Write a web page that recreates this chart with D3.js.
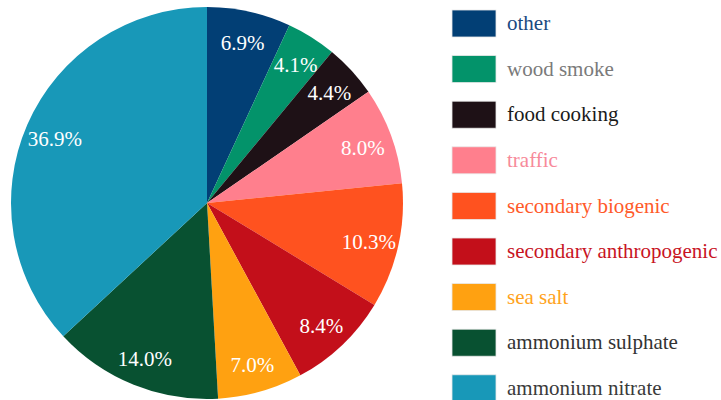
<!DOCTYPE html>
<html><head><meta charset="utf-8">
<script src="https://cdn.jsdelivr.net/npm/d3@7"></script>
</head><body style="margin:0">
<svg id="chart" width="721" height="400" font-family="Liberation Serif"></svg>
<script>
const categories = ["other","wood smoke","food cooking","traffic","secondary biogenic","secondary anthropogenic","sea salt","ammonium sulphate","ammonium nitrate"];
const values = [6.9,4.1,4.4,8.0,10.3,8.4,7.0,14.0,36.9];
const sliceColors = ["#023f75","#03936a","#1e1116","#ff7f8d","#ff521f","#c30f1a","#ffa111","#085131","#1898b8"];
const legendTextColors = ["#1b4a80","#7a7a7a","#1a1a1a","#f78a9a","#ff5a2a","#c8141f","#ffa31c","#333333","#3a3a3a"];

const FONT = "Liberation Serif";
const svg = d3.select("#chart");
const cx = 207, cy = 203, R = 196, labelR = 166;
const data = categories.map((c,i)=>({name:c, value:values[i], color:sliceColors[i], tcolor:legendTextColors[i]}));

const pie = d3.pie().value(d=>d.value).sort(null);
const arc = d3.arc().innerRadius(0).outerRadius(R);
const labelArc = d3.arc().innerRadius(labelR).outerRadius(labelR);
const g = svg.append("g").attr("transform",`translate(${cx},${cy})`);
const arcs = pie(data);
g.selectAll("path").data(arcs).join("path")
  .attr("d",arc).attr("fill",d=>d.data.color);
g.selectAll("text").data(arcs).join("text")
  .attr("transform",d=>`translate(${labelArc.centroid(d)})`)
  .attr("text-anchor","middle").attr("dy","0.45em")
  .attr("font-family",FONT)
  .attr("font-size",21).attr("fill","#fff")
  .text(d=>d.data.value.toFixed(1)+"%");

const legend = svg.append("g").attr("transform","translate(452,10)");
const step = 45.6;
const items = legend.selectAll("g").data(data).join("g")
  .attr("transform",(d,i)=>`translate(0,${i*step})`);
items.append("rect").attr("width",44).attr("height",27).attr("fill",d=>d.color)
  .attr("stroke","#e8e8e8").attr("stroke-width",0.8);
items.append("text").attr("x",55).attr("y",13.5).attr("dy","0.32em")
  .attr("font-family",FONT)
  .attr("font-size",21).attr("fill",d=>d.tcolor).text(d=>d.name);
</script>
</body></html>
